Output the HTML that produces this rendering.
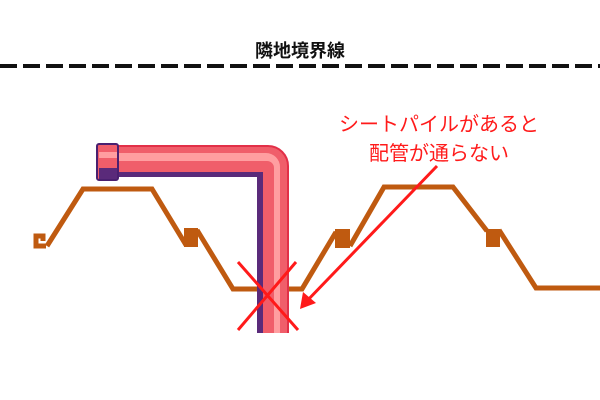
<!DOCTYPE html>
<html><head><meta charset="utf-8"><style>
body{margin:0;width:600px;height:400px;background:#fff;overflow:hidden}
svg{display:block}
text{font-family:"Liberation Sans","Noto Sans CJK JP",sans-serif}
</style></head><body>
<svg width="600" height="400" viewBox="0 0 600 400">
<text x="300" y="57" text-anchor="middle" font-size="18" font-weight="bold" fill="#111">隣地境界線</text>
<line x1="0" y1="66" x2="600" y2="66" stroke="#111" stroke-width="4" stroke-dasharray="17,6"/>
<g fill="none" stroke="#bf5a10" stroke-width="5" stroke-linejoin="miter">
<polyline points="46,246 36,246 36,236 43,236 43,241"/>
<polyline points="47,246 83,189 152,189 186,245"/>
<polyline points="197,230 233,289 302,289 336,232"/>
<polyline points="350,246 384,187 453,187 487,231"/>
<polyline points="499,230 536,288 600,288"/>
</g>
<g fill="#bf5a10">
<polygon points="184,228 198,228 198,247 184,247"/>
<polygon points="335,229 350,229 350,248 335,248"/>
<polygon points="486,229 500,229 500,247 486,247"/>
</g>
<path d="M118,146 H268 A20,20 0 0 1 288,166 V333 H257 V177 H118 Z" fill="#5a2a7a"/>
<path d="M118,146 H268 A20,20 0 0 1 288,166 V333 H263 V172 H118 Z" fill="#f05e6a"/>
<path d="M118,153 H266 A14,14 0 0 1 280,167 V333 H274 V168 A7,7 0 0 0 267,161 H118 Z" fill="#ff9ea0"/>
<path d="M118,146 H268 A20,20 0 0 1 288,166 V333" fill="none" stroke="#e23048" stroke-width="2"/>
<rect x="97" y="144" width="21" height="36" rx="2" fill="#f05e6a" stroke="#4a2070" stroke-width="2"/>
<rect x="99" y="168" width="18" height="11" fill="#5a2a7a"/>
<rect x="99" y="152" width="18" height="6" fill="#ff9ea0"/>
<g stroke="#ff1a1a" stroke-width="3">
<line x1="238" y1="262" x2="298" y2="330"/>
<line x1="296" y1="262" x2="238" y2="330"/>
<line x1="437" y1="166" x2="304" y2="304"/>
</g>
<polygon points="300,309 303,292 316,303" fill="#ff1a1a"/>
<text x="439" y="131" text-anchor="middle" font-size="20" fill="#ff1a1a">シートパイルがあると</text>
<text x="439" y="160" text-anchor="middle" font-size="20" fill="#ff1a1a">配管が通らない</text>
</svg>
</body></html>
